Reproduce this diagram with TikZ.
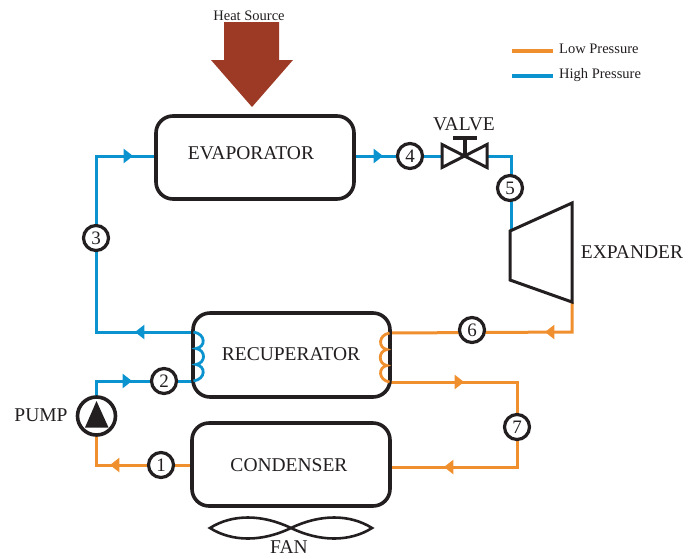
\documentclass[tikz,border=0pt]{standalone}
\usepackage{fontspec}
\setmainfont{Liberation Serif}
\usetikzlibrary{calc}
\definecolor{ink}{HTML}{231F20}
\definecolor{lowp}{HTML}{F08F2E}
\definecolor{highp}{HTML}{0A93CF}
\definecolor{heat}{HTML}{9C3A26}
\tikzset{
  every node/.style={text=ink},
  unit/.style={draw=ink,line width=3.6pt,rounded corners=17pt,fill=white,inner sep=0pt,font=\fontsize{19.5}{20}\selectfont},
  statept/.style={circle,draw=ink,line width=3.2pt,fill=white,minimum size=25pt,inner sep=0pt,font=\fontsize{19}{20}\selectfont},
  lbl/.style={inner sep=0pt,font=\fontsize{19.5}{20}\selectfont},
  smalllbl/.style={inner sep=0pt,font=\fontsize{14.5}{15}\selectfont},
  hi/.style={draw=highp,line width=3pt},
  lo/.style={draw=lowp,line width=3pt},
  symb/.style={draw=ink,line width=3pt,line join=miter},
  fanblade/.style={draw=ink,line width=2.6pt,line join=miter},
}
\newcommand{\flowtip}[4]{\fill[#1] (#2,#3) ++(#4:8) -- ++(#4+142:12) -- ++(#4-90:14.8) -- cycle;}
\begin{document}
\begin{tikzpicture}[x=1pt,y=-1pt]
\useasboundingbox (0,0) rectangle (688,558);
% named points
\coordinate (c3a) at (96,156);
\coordinate (c3b) at (96,332);
\coordinate (c5a) at (511,156);
\coordinate (c6a) at (572,332);
\coordinate (c7a) at (517,382);
\coordinate (c7b) at (517,467);
\coordinate (c2a) at (96,381);
\coordinate (c1a) at (96,465);
\coordinate (recL1) at (193,332);
\coordinate (recL2) at (193,381);
\coordinate (recR1) at (390,333);
\coordinate (recR2) at (390,382);
\coordinate (evL) at (156,156);
\coordinate (evR) at (354,156);
\coordinate (cdL) at (192,465);
\coordinate (cdR) at (390,467);
\coordinate (exIn) at (511,231);
\coordinate (exOut) at (572,302);
\coordinate (valveL) at (442,156);
\coordinate (valveR) at (488,156);
% wires
\draw[hi] (evL) -- (c3a) -- (c3b) -- (recL1);
\draw[hi] (evR) -- (valveL);
\draw[hi] (valveR) -- (c5a) -- (exIn);
\draw[lo] (recR1) -- (c6a) -- (exOut);
\draw[lo] (recR2) -- (c7a) -- (c7b) -- (cdR);
\draw[hi] (96,400) -- (c2a) -- (recL2);
\draw[lo] (96,432) -- (c1a) -- (cdL);
% flow arrows
\flowtip{highp}{125}{156}{0}
\flowtip{highp}{143}{332}{180}
\flowtip{highp}{375}{156}{0}
\flowtip{highp}{124}{381}{0}
\flowtip{lowp}{553}{332}{180}
\flowtip{lowp}{456}{382}{0}
\flowtip{lowp}{452}{467}{180}
\flowtip{lowp}{118}{465}{180}
% units
\node[unit,minimum width=198pt,minimum height=83pt] (evap) at (255,157.5) {};
\node[lbl] (evaplbl) at (251,153) {EVAPORATOR};
\node[unit,minimum width=197pt,minimum height=84pt] (recup) at (291.5,355) {};
\node[lbl] (recuplbl) at (291,354) {RECUPERATOR};
\node[unit,minimum width=198pt,minimum height=83pt] (cond) at (291,464.5) {};
\node[lbl] (condlbl) at (289,465) {CONDENSER};
% coils
\draw[hi,line width=2.8pt] (193.5,332) .. controls (206,334) and (206,347) .. (196,348.5)
  .. controls (206,350) and (206,363) .. (196,364.5)
  .. controls (206,366) and (206,379) .. (193.5,381);
\draw[lo,line width=2.8pt] (389.5,333) .. controls (378,335) and (378,348) .. (387,349.5)
  .. controls (378,351) and (378,364) .. (387,365.5)
  .. controls (378,367) and (378,380) .. (389.5,382);
% state points
\node[statept] (s1) at (161,465) {1};
\node[statept] (s2) at (164,381) {2};
\node[statept] (s3) at (96,238) {3};
\node[statept] (s4) at (410,156) {4};
\node[statept] (s5) at (510,188) {5};
\node[statept] (s6) at (472,330) {6};
\node[statept] (s7) at (517,427) {7};
% pump
\node[circle,draw=ink,line width=3.6pt,fill=white,minimum size=38pt,inner sep=0pt] (pump) at (96.5,416) {};
\fill[ink] (96.5,401) -- (108.5,427.5) -- (85,427.5) -- cycle;
\node[lbl] (pumplbl) at (41,415) {PUMP};
% valve
\draw[symb,fill=white] (442,144.5) -- (487,167.5) -- (487,144.5) -- (442,167.5) -- cycle;
\draw[ink,line width=4pt] (465,155) -- (465,138);
\draw[ink,line width=3.5pt] (453,138) -- (477,138);
\node[lbl] (valvelbl) at (464,124) {VALVE};
% expander
\draw[symb,fill=white] (510,231) -- (572,203) -- (572,302) -- (510,280) -- cycle;
\node[lbl] (exlbl) at (632,252) {EXPANDER};
% heat source
\fill[heat] (224,22) -- (279,22) -- (279,60) -- (293,60) -- (252,107) -- (211,60) -- (224,60) -- cycle;
\node[smalllbl] (heatlbl) at (249,16) {Heat Source};
% fan
\draw[fanblade] (210,528) .. controls (232,514) and (262,514) .. (291,528)
  .. controls (320,542) and (350,542) .. (372,528)
  .. controls (350,514) and (320,514) .. (291,528)
  .. controls (262,542) and (232,542) .. (210,528) -- cycle;
\node[lbl] (fanlbl) at (289,547) {FAN};
% legend
\coordinate (l1a) at (512,51); \coordinate (l1b) at (553,51);
\coordinate (l2a) at (512,76); \coordinate (l2b) at (553,76);
\draw[lo,line width=4.5pt] (l1a) -- (l1b);
\draw[hi,line width=4.5pt] (l2a) -- (l2b);
\node[smalllbl,anchor=west] (lowlbl) at (559,49) {Low Pressure};
\node[smalllbl,anchor=west] (highlbl) at (559,75) {High Pressure};
\end{tikzpicture}
\end{document}
